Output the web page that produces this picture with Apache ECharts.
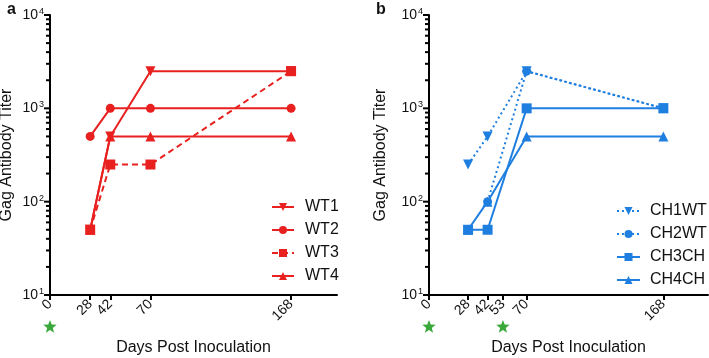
<!DOCTYPE html>
<html>
<head>
<meta charset="utf-8">
<script src="https://cdn.jsdelivr.net/npm/echarts@6/dist/echarts.min.js"></script>
<style>
  html, body { margin: 0; padding: 0; background: #fff; }
  #chart { width: 709px; height: 358px; }
</style>
</head>
<body>
<div id="chart"></div>
<script>
// data
var days = [28, 42, 70, 168]
var wt1 = [50, 500, 2500, 2500]
var wt2 = [500, 1000, 1000, 1000]
var wt3 = [50, 250, 250, 2500]
var wt4 = [50, 500, 500, 500]
var ch1wt = [250, 500, 2500, 1000]
var ch2wt = [null, 100, 2500, 1000]
var ch3ch = [50, 50, 1000, 1000]
var ch4ch = [50, 100, 500, 500]

var tickDaysA = [0, 28, 42, 70, 168]
var tickDaysB = [0, 28, 42, 53, 70, 168]
var boostA = [0]
var boostB = [0, 53]
var yTicks = [10, 100, 1000, 10000]

var RED = '#e8201f'
var BLUE = '#1f7fe0'
var GREEN = '#3aa83a'
var FONT = '"Liberation Sans", Arial, sans-serif'

// minor y ticks: 2..9 in each decade
var minorTicks = []
for (var d = 0; d < yTicks.length - 1; d++) {
  for (var k = 2; k <= 9; k++) minorTicks.push(yTicks[d] * k)
}

function pairs (ys) {
  var out = []
  ys.forEach(function (v, i) {
    if (v !== null) out.push([days[i], v])
  })
  return out
}

function xAxisFor (grid, ticks) {
  return {
    type: 'value',
    gridIndex: grid,
    min: 0,
    max: 200,
    name: 'Days Post Inoculation',
    nameLocation: 'middle',
    nameGap: 45,
    nameTextStyle: { fontSize: 16, color: '#111', fontFamily: FONT },
    axisLine: { lineStyle: { color: '#000', width: 2 } },
    axisTick: { customValues: ticks, length: 5, lineStyle: { color: '#000', width: 2 } },
    axisLabel: {
      customValues: ticks,
      rotate: 45,
      margin: 7,
      fontSize: 14,
      color: '#111',
      fontFamily: FONT
    },
    splitLine: { show: false }
  }
}

function yAxisFor (grid, nameGap) {
  return {
    type: 'log',
    gridIndex: grid,
    position: 'left',
    min: 10,
    max: 10000,
    name: 'Gag Antibody Titer',
    nameLocation: 'middle',
    nameGap: nameGap,
    nameTextStyle: { fontSize: 16, color: '#111', fontFamily: FONT },
    axisLine: { show: true, lineStyle: { color: '#000', width: 2 } },
    axisTick: { show: false },
    axisLabel: {
      customValues: yTicks,
      margin: 6,
      formatter: function (v) {
        return '{b|10}{s|' + Math.round(Math.log10(v)) + '}'
      },
      rich: {
        b: { fontSize: 14, color: '#111', fontFamily: FONT, lineHeight: 16 },
        s: { fontSize: 9, color: '#111', fontFamily: FONT, verticalAlign: 'top', lineHeight: 16, padding: [0, 0, 0, 1] }
      }
    },
    splitLine: { show: false }
  }
}

function lineSeries (name, ys, color, symbol, rotate, type, grid) {
  return {
    name: name,
    type: 'line',
    xAxisIndex: grid,
    yAxisIndex: grid,
    data: pairs(ys),
    symbol: symbol,
    symbolRotate: rotate,
    symbolSize: symbol === 'circle' ? 9 : 10,
    color: color,
    itemStyle: { color: color },
    lineStyle: { color: color, width: 2, type: type },
    animation: false
  }
}

var myChart = echarts.init(document.getElementById('chart'))
myChart.setOption({
  animation: false,
  title: [
    { text: 'a', left: 5, top: 0, padding: 2, textStyle: { fontSize: 16, fontWeight: 'bold', color: '#111', fontFamily: FONT } },
    { text: 'b', left: 374, top: 0, padding: 2, textStyle: { fontSize: 16, fontWeight: 'bold', color: '#111', fontFamily: FONT } }
  ],
  grid: [
    { left: 50, right: 372, top: 15, bottom: 63, outerBoundsMode: 'none' },
    { left: 429, right: 1, top: 15, bottom: 63, outerBoundsMode: 'none' }
  ],
  legend: [
    {
      data: ['WT1', 'WT2', 'WT3', 'WT4'],
      orient: 'vertical',
      left: 271,
      top: 199,
      padding: 0,
      itemWidth: 22,
      itemHeight: 10,
      itemGap: 7,
      textStyle: { fontSize: 16, color: '#111', fontFamily: FONT, padding: [0, 0, 0, 6] }
    },
    {
      data: ['CH1WT', 'CH2WT', 'CH3CH', 'CH4CH'],
      orient: 'vertical',
      left: 616,
      top: 203,
      padding: 0,
      itemWidth: 23,
      itemHeight: 10,
      itemGap: 7,
      textStyle: { fontSize: 16, color: '#111', fontFamily: FONT, padding: [0, 0, 0, 5] }
    }
  ],
  xAxis: [xAxisFor(0, tickDaysA), xAxisFor(1, tickDaysB)],
  yAxis: [yAxisFor(0, 35), yAxisFor(1, 40)],
  series: [
    lineSeries('WT1', wt1, RED, 'triangle', 180, 'solid', 0),
    lineSeries('WT2', wt2, RED, 'circle', 0, 'solid', 0),
    lineSeries('WT3', wt3, RED, 'rect', 0, [6, 4], 0),
    lineSeries('WT4', wt4, RED, 'triangle', 0, 'solid', 0),
    lineSeries('CH1WT', ch1wt, BLUE, 'triangle', 180, [2, 3], 1),
    lineSeries('CH2WT', ch2wt, BLUE, 'circle', 0, [2, 3], 1),
    lineSeries('CH3CH', ch3ch, BLUE, 'rect', 0, 'solid', 1),
    lineSeries('CH4CH', ch4ch, BLUE, 'triangle', 0, 'solid', 1)
  ]
})

// green stars under the axis for the inoculation days
function starPoints (cx, cy, R) {
  var pts = []
  for (var i = 0; i < 10; i++) {
    var a = (-90 + i * 36) * Math.PI / 180
    var r = i % 2 ? R * 0.42 : R
    pts.push([cx + r * Math.cos(a), cy + r * Math.sin(a)])
  }
  return pts
}

var extras = []
function addStars (list, grid) {
  var yBase = myChart.convertToPixel({ yAxisIndex: grid }, 10)
  list.forEach(function (dd) {
    var x = myChart.convertToPixel({ xAxisIndex: grid }, dd)
    extras.push({
      type: 'polygon',
      shape: { points: starPoints(x, yBase + 32, 7) },
      style: { fill: GREEN }
    })
  })
}

// y ticks (major + log minor), placed through the y scale
function addYTicks (grid) {
  var x0 = myChart.convertToPixel({ xAxisIndex: grid }, 0)
  function tick (v, len, w) {
    var y = myChart.convertToPixel({ yAxisIndex: grid }, v)
    extras.push({
      type: 'line',
      z: 10,
      shape: { x1: x0 - len, y1: y, x2: x0, y2: y },
      style: { stroke: '#000', lineWidth: w }
    })
  }
  yTicks.forEach(function (v) { tick(v, 6, 2) })
  minorTicks.forEach(function (v) { tick(v, 4, 2) })
}

addStars(boostA, 0)
addStars(boostB, 1)
addYTicks(0)
addYTicks(1)
myChart.setOption({ graphic: extras })
</script>
</body>
</html>
